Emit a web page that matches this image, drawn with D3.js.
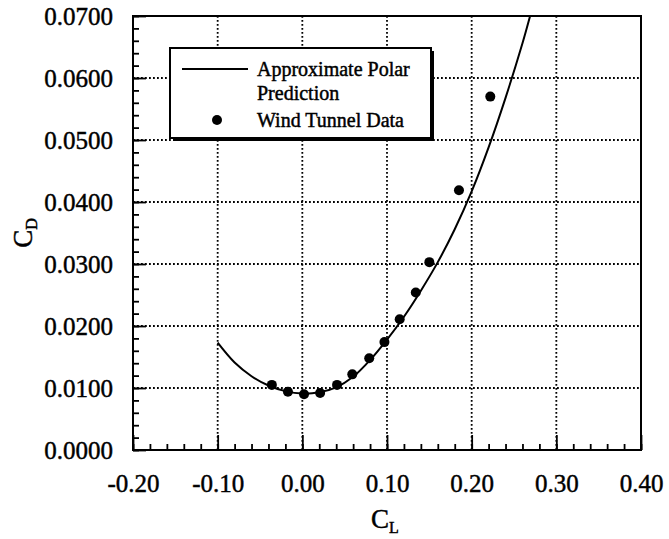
<!DOCTYPE html>
<html>
<head>
<meta charset="utf-8">
<script src="https://cdn.jsdelivr.net/npm/d3@7"></script>
<style>
  body { margin: 0; background: #fff; }
  svg text { font-family: "Liberation Serif", "Times New Roman", serif; fill: #000; stroke: #000; stroke-width: 0.45; }
  .axis path { display: none; }
  .axis line { stroke: #000; stroke-width: 1.8; }
  .grid line { stroke: #000; stroke-width: 1.8; stroke-dasharray: 1.8 2.2; }
</style>
</head>
<body>
<div id="chart"></div>
<script>
// approximate polar prediction
const polarCL = [-0.10, -0.08, -0.06, -0.04, -0.02, 0.00, 0.02, 0.04, 0.06, 0.08, 0.10, 0.12, 0.14, 0.16, 0.18, 0.20, 0.22, 0.24, 0.26, 0.269];
const polarCD = [0.0173, 0.0141, 0.0119, 0.0104, 0.0095, 0.0091, 0.0093, 0.0101, 0.0118, 0.0145, 0.0178, 0.0215, 0.0257, 0.0303, 0.0356, 0.0417, 0.0488, 0.0568, 0.0656, 0.0700];

// wind tunnel data
const tunnelCL = [-0.036, -0.017, 0.002, 0.021, 0.041, 0.059, 0.079, 0.097, 0.115, 0.134, 0.150, 0.185, 0.222];
const tunnelCD = [0.0105, 0.0094, 0.0090, 0.0092, 0.0105, 0.0122, 0.0148, 0.0174, 0.0211, 0.0254, 0.0303, 0.0419, 0.0570];

const xTicks = [-0.20, -0.10, 0.00, 0.10, 0.20, 0.30, 0.40];
const yTicks = [0.0000, 0.0100, 0.0200, 0.0300, 0.0400, 0.0500, 0.0600, 0.0700];

const legendLabels = ["Approximate Polar", "Prediction", "Wind Tunnel Data"];

const width = 669, height = 539;
const margin = {top: 16, right: 28, bottom: 89, left: 133};

const svg = d3.select("#chart")
    .append("svg")
    .attr("width", width)
    .attr("height", height);

const xScale = d3.scaleLinear()
    .domain([-0.2, 0.4])
    .range([margin.left, width - margin.right]);

const yScale = d3.scaleLinear()
    .domain([0, 0.07])
    .range([height - margin.bottom, margin.top]);

const plotW = width - margin.left - margin.right;
const plotH = height - margin.top - margin.bottom;

// dotted grid
svg.append("g")
    .attr("class", "grid")
    .selectAll("line")
    .data(xTicks.slice(1, -1))
    .join("line")
    .attr("x1", d => xScale(d)).attr("x2", d => xScale(d))
    .attr("y1", margin.top).attr("y2", height - margin.bottom);

svg.append("g")
    .attr("class", "grid")
    .selectAll("line")
    .data(yTicks.slice(1, -1))
    .join("line")
    .attr("x1", margin.left).attr("x2", width - margin.right)
    .attr("y1", d => yScale(d)).attr("y2", d => yScale(d));

// minor + major ticks (inside)
svg.append("g")
    .attr("class", "axis")
    .attr("transform", `translate(0,${height - margin.bottom})`)
    .call(d3.axisBottom(xScale).ticks(30).tickSize(-6).tickFormat(""));

svg.append("g")
    .attr("class", "axis")
    .attr("transform", `translate(0,${height - margin.bottom})`)
    .call(d3.axisBottom(xScale).tickValues(xTicks).tickSize(-15).tickPadding(24)
        .tickFormat(d => d.toFixed(2)))
    .selectAll("text")
    .style("font-size", "25px");

svg.append("g")
    .attr("class", "axis")
    .attr("transform", `translate(${margin.left},0)`)
    .call(d3.axisLeft(yScale).ticks(35).tickSize(-6).tickFormat(""));

svg.append("g")
    .attr("class", "axis")
    .attr("transform", `translate(${margin.left},0)`)
    .call(d3.axisLeft(yScale).tickValues(yTicks).tickSize(-13).tickPadding(20)
        .tickFormat(d => d.toFixed(4)))
    .selectAll("text")
    .style("font-size", "25px");

// frame
svg.append("rect")
    .attr("x", margin.left).attr("y", margin.top)
    .attr("width", plotW).attr("height", plotH)
    .attr("fill", "none")
    .attr("stroke", "#000")
    .attr("stroke-width", 2);

// polar curve
const line = d3.line()
    .x((d, i) => xScale(polarCL[i]))
    .y(d => yScale(d))
    .curve(d3.curveCatmullRom);

svg.append("path")
    .attr("d", line(polarCD))
    .attr("fill", "none")
    .attr("stroke", "#000")
    .attr("stroke-width", 2);

// wind tunnel points
svg.append("g")
    .selectAll("circle")
    .data(tunnelCD)
    .join("circle")
    .attr("cx", (d, i) => xScale(tunnelCL[i]))
    .attr("cy", d => yScale(d))
    .attr("r", 5)
    .attr("fill", "#000");

// legend box with drop shadow
const lg = svg.append("g").attr("transform", "translate(170,48)");
lg.append("rect")
    .attr("x", 3).attr("y", 3)
    .attr("width", 261).attr("height", 90)
    .attr("fill", "#000");
lg.append("rect")
    .attr("width", 261).attr("height", 90)
    .attr("fill", "#fff")
    .attr("stroke", "#000")
    .attr("stroke-width", 2);

lg.append("line")
    .attr("x1", 12).attr("x2", 78)
    .attr("y1", 21).attr("y2", 21)
    .attr("stroke", "#000")
    .attr("stroke-width", 1.8);

lg.append("circle")
    .attr("cx", 47).attr("cy", 72)
    .attr("r", 5)
    .attr("fill", "#000");

lg.selectAll("text")
    .data(legendLabels)
    .join("text")
    .attr("x", 87)
    .attr("y", (d, i) => [28, 52, 79][i])
    .style("font-size", "20px")
    .text(d => d);

// axis titles
svg.append("text")
    .attr("x", 385)
    .attr("y", 528)
    .attr("text-anchor", "middle")
    .style("font-size", "27px")
    .html('C<tspan dy="5" style="font-size:16px">L</tspan>');

svg.append("text")
    .attr("transform", "translate(32,233) rotate(-90)")
    .attr("text-anchor", "middle")
    .style("font-size", "27px")
    .html('C<tspan dy="5" style="font-size:16px">D</tspan>');
</script>
</body>
</html>
